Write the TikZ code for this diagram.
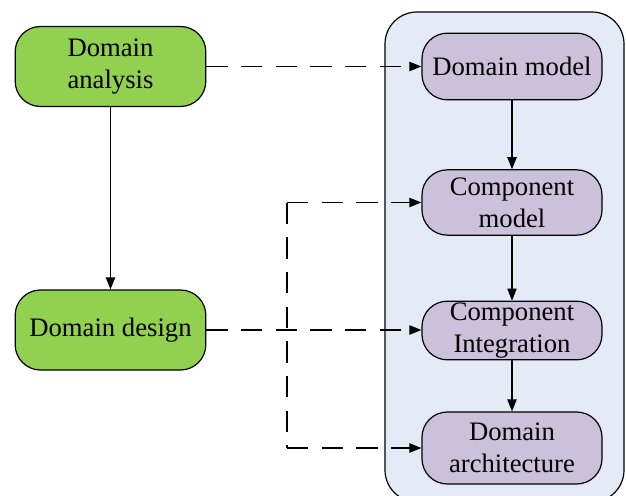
\documentclass[tikz,border=0pt]{standalone}
\usepackage{fontspec}
\setmainfont{Liberation Serif}
\usetikzlibrary{arrows.meta}
\definecolor{greenbox}{HTML}{92D050}
\definecolor{lavbox}{HTML}{CCC1DA}
\definecolor{panel}{HTML}{E4EBF6}
\tikzset{
  greennode/.style={draw=black, line width=0.9pt, fill=greenbox, rounded corners=19pt,
    minimum width=143pt, minimum height=60pt, align=center, font=\fontsize{20}{24}\selectfont, inner sep=0pt},
  lavnode/.style={draw=black, line width=0.9pt, fill=lavbox, rounded corners=19pt,
    minimum width=135pt, align=center, font=\fontsize{20}{24}\selectfont, inner sep=0pt},
  solidarrow/.style={draw=black, line width=0.8pt, -{Triangle[length=9pt,width=7pt]}},
  dasharrow/.style={draw=black, line width=0.8pt, dash pattern=on 16pt off 10pt, -{Triangle[length=9pt,width=7pt]}},
  dashline/.style={draw=black, line width=0.8pt, dash pattern=on 16pt off 10pt},
  panelbox/.style={draw=black, line width=0.9pt, fill=panel, rounded corners=24pt}
}
\begin{document}
\begin{tikzpicture}[x=0.75pt,y=-0.75pt]
\useasboundingbox (0,0) rectangle (626,496);
\clip (0,0) rectangle (626,496);
\draw[panelbox] (385,12) rectangle (624,502);
\node[greennode] (analysis) at (110.5,66.5) {Domain\\analysis};
\node[greennode] (design) at (110.5,330) {Domain design};
\node[lavnode, minimum height=50pt] (model) at (512,66.5) {Domain model};
\node[lavnode, minimum height=49pt] (comp) at (512,202.5) {Component\\model};
\node[lavnode, minimum height=44pt] (integ) at (512,330.5) {Component\\Integration};
\node[lavnode, minimum height=54pt] (arch) at (512,448) {Domain\\architecture};
\coordinate (split) at (287,333);
\draw[solidarrow] (analysis) -- (design);
\draw[solidarrow] (model) -- (comp);
\draw[solidarrow] (comp) -- (integ);
\draw[solidarrow] (integ) -- (arch);
\draw[dasharrow] (analysis.east) -- (analysis.east -| model.west);
\draw[dasharrow] (design.east) -- (design.east -| integ.west);
\draw[dasharrow] (split |- comp.west) -- (comp.west);
\draw[dasharrow] (split |- arch.west) -- (arch.west);
\draw[dashline] (split |- comp.west) -- (split |- arch.west);
\end{tikzpicture}
\end{document}
